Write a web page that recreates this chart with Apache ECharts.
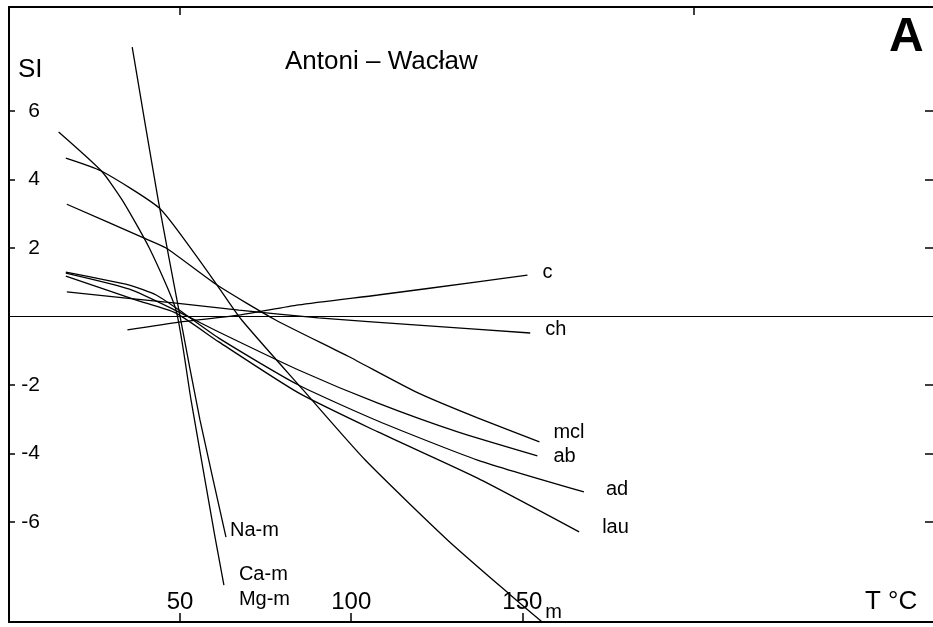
<!DOCTYPE html>
<html>
<head>
<meta charset="utf-8">
<title>Antoni - Wacław</title>
<script src="https://cdn.jsdelivr.net/npm/echarts@6/dist/echarts.min.js"></script>
<style>
  html, body { margin: 0; padding: 0; background: #fff; }
  #main { width: 933px; height: 627px; }
</style>
</head>
<body>
<div id="main"></div>
<script type="text/javascript">
// saturation index vs temperature
var yTicks = [-6, -4, -2, 2, 4, 6];
var xTicks = [50, 100, 150];
var topTicks = [50, 200];

var cData   = [[34.6, -0.39], [49.7, -0.16], [67.2, 0.04], [84.6, 0.34], [107.8, 0.63], [136.9, 1.01], [151.5, 1.21]];
var chData  = [[16.9, 0.72], [48.8, 0.39], [67.2, 0.19], [90.4, -0.04], [119.5, -0.25], [152.3, -0.48]];
var mclData = [[16.9, 3.28], [39.5, 2.29], [45.9, 2.0], [60.8, 0.92], [77.9, -0.10], [99.1, -1.16], [119.5, -2.23], [136.9, -2.96], [155.0, -3.66]];
var abData  = [[16.6, 1.27], [35.2, 0.80], [49.7, 0.13], [61.3, -0.45], [84.6, -1.56], [107.8, -2.53], [131.1, -3.37], [154.4, -4.07]];
var adData  = [[16.6, 1.30], [35.2, 0.92], [43.0, 0.63], [49.7, 0.19], [61.3, -0.63], [84.6, -2.0], [107.8, -3.05], [136.9, -4.19], [168.0, -5.12]];
var lauData = [[16.6, 1.18], [37.2, 0.48], [48.8, 0.10], [61.3, -0.74], [84.6, -2.23], [107.8, -3.37], [136.9, -4.72], [166.6, -6.29]];
var mData   = [[16.6, 4.63], [27.0, 4.25], [43.9, 3.17], [53.5, 1.94], [60.8, 0.92], [68.0, -0.10], [86.0, -2.15], [104.1, -4.19], [128.2, -6.53], [146.5, -8.13], [155.8, -8.92]];
var naData  = [[36.0, 7.87], [43.6, 3.40], [50.0, 0.0], [55.8, -3.02], [63.4, -6.44]];
var caData  = [[14.5, 5.39], [27.0, 4.25], [33.1, 3.40], [41.0, 2.00], [48.8, 0.19], [53.2, -2.44], [60.2, -6.44], [62.8, -7.84]];

var myChart = echarts.init(document.getElementById('main'));
var font = 'Liberation Sans, Arial, sans-serif';

// one curve, label at its end
function curve(name, data, label, off) {
    return {
        name: name,
        type: 'line',
        data: data,
        smooth: 0.2,
        showSymbol: false,
        silent: true,
        lineStyle: { color: '#000', width: 1.3 },
        endLabel: {
            show: true,
            formatter: label,
            distance: 0,
            offset: off,
            color: '#000',
            fontFamily: font,
            fontSize: 20,
            lineHeight: 25
        }
    };
}

var series = [
    curve('c', cData, 'c', [15, -3]),
    curve('ch', chData, 'ch', [15, -4]),
    curve('mcl', mclData, 'mcl', [14, -9]),
    curve('ab', abData, 'ab', [16, 1]),
    curve('ad', adData, 'ad', [22, -2]),
    curve('lau', lauData, 'lau', [23, -4]),
    curve('m', mData, 'm', [3, -10]),
    curve('Na-m', naData, 'Na-m', [4, -7]),
    curve('Ca-m', caData, 'Ca-m\nMg-m', [15, 2])
];
// zero line
series[0].markLine = {
    silent: true,
    symbol: 'none',
    label: { show: false },
    lineStyle: { color: '#000', width: 1.2, type: 'solid' },
    data: [{ yAxis: 0 }]
};

var option = {
    backgroundColor: '#fff',
    animation: false,
    title: [
        { text: 'Antoni – Wacław', left: 280, top: 44, textStyle: { fontFamily: font, fontSize: 26, fontWeight: 'normal', color: '#000' } },
        { text: 'A', left: 884, top: 9, textStyle: { fontFamily: font, fontSize: 48, fontWeight: 'bold', color: '#000' } },
        { text: 'SI', left: 13, top: 52, textStyle: { fontFamily: font, fontSize: 26, fontWeight: 'normal', color: '#000' } },
        { text: 'T °C', left: 860, top: 584, textStyle: { fontFamily: font, fontSize: 26, fontWeight: 'normal', color: '#000' } }
    ],
    grid: { left: 9, top: 7, width: 929, height: 615 },
    xAxis: [
        {
            type: 'value', min: 0, max: 270, position: 'bottom',
            axisLine: { onZero: false, lineStyle: { color: '#000', width: 2 } },
            axisTick: { inside: true, length: 9, customValues: xTicks, lineStyle: { color: '#000', width: 1.5 } },
            axisLabel: { inside: true, margin: 8, customValues: xTicks, color: '#000', fontFamily: font, fontSize: 24 },
            splitLine: { show: false }
        },
        {
            type: 'value', min: 0, max: 270, position: 'top',
            axisLine: { onZero: false, lineStyle: { color: '#000', width: 2 } },
            axisTick: { inside: true, length: 8, customValues: topTicks, lineStyle: { color: '#000', width: 1.5 } },
            axisLabel: { show: false },
            splitLine: { show: false }
        }
    ],
    yAxis: [
        {
            type: 'value', min: -8.92, max: 9.04, position: 'left',
            axisLine: { onZero: false, lineStyle: { color: '#000', width: 2 } },
            axisTick: { inside: true, length: 6, customValues: yTicks, lineStyle: { color: '#000', width: 1.5 } },
            axisLabel: { inside: true, margin: 31, align: 'right', customValues: yTicks, color: '#000', fontFamily: font, fontSize: 21 },
            splitLine: { show: false }
        },
        {
            type: 'value', min: -8.92, max: 9.04, position: 'right',
            axisLine: { onZero: false, show: false },
            axisTick: { inside: true, length: 8, customValues: yTicks, lineStyle: { color: '#000', width: 1.5 } },
            axisLabel: { show: false },
            splitLine: { show: false }
        }
    ],
    series: series
};

myChart.setOption(option);
</script>
</body>
</html>
